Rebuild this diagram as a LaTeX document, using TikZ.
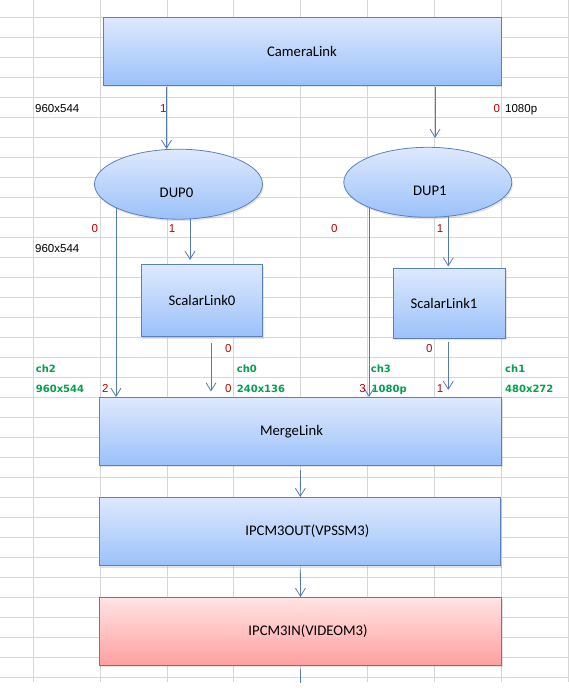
\documentclass[tikz,border=0pt]{standalone}
\usepackage{fontspec}
\setmainfont{Carlito}
\newfontfamily\cellfont{Liberation Sans}
\newfontfamily\chfont{DejaVu Sans}
\usetikzlibrary{arrows.meta,shadows,shapes.geometric,backgrounds}
\definecolor{gridc}{RGB}{214,214,214}
\definecolor{boxtop}{RGB}{222,233,253}
\definecolor{boxbot}{RGB}{155,193,250}
\definecolor{boxline}{RGB}{92,128,186}
\definecolor{redtop}{RGB}{255,228,228}
\definecolor{redbot}{RGB}{255,160,160}
\definecolor{redline}{RGB}{196,88,88}
\definecolor{arrc}{RGB}{84,122,180}
\definecolor{numc}{RGB}{192,0,0}
\definecolor{chc}{RGB}{0,160,80}

\begin{document}
\begin{tikzpicture}[x=1pt,y=-1pt,
  boxfont/.style={font=\fontsize{14.7}{16}\selectfont},
  link/.style={rectangle,draw=boxline,line width=0.8pt,top color=boxtop,bottom color=boxbot,
    inner sep=0pt,boxfont,drop shadow={shadow xshift=1pt,shadow yshift=-2pt,opacity=.22}},
  redlink/.style={link,draw=redline,top color=redtop,bottom color=redbot},
  dup/.style={link,ellipse,minimum width=168pt,minimum height=70pt},
  flow/.style={draw=arrc,line width=0.8pt,-{Straight Barb[length=8pt,width=10pt]}},
  cell/.style={font=\cellfont\fontsize{11.5}{13}\selectfont,inner sep=0pt},
  num/.style={cell,text=numc,anchor=base},
  ch/.style={font=\chfont\bfseries\fontsize{10}{12}\selectfont,text=chc,inner sep=0pt,anchor=base west}]
\useasboundingbox (0,0) rectangle (569,691);

% links
\node[link,minimum width=398pt,minimum height=68pt] (cam) at (302,51) {CameraLink};
\node[dup,label={[boxfont,xshift=-2pt,yshift=-9pt]center:DUP0}] (dup0) at (178.5,184.2) {};
\node[dup,label={[boxfont,xshift=2pt,yshift=-9pt]center:DUP1}] (dup1) at (427.8,182.3) {};
\node[link,minimum width=121.4pt,minimum height=72.4pt] (sc0) at (202,300.5) {ScalarLink0};
\node[link,minimum width=112.4pt,minimum height=70pt,
  label={[boxfont,xshift=-5.5pt]center:ScalarLink1}] (sc1) at (449.5,303.3) {};
\node[link,minimum width=402.4pt,minimum height=67.7pt,
  label={[boxfont,xshift=-9pt]center:MergeLink}] (mrg) at (300.5,431.2) {};
\node[link,minimum width=401pt,minimum height=68.4pt,
  label={[boxfont,xshift=7pt]center:IPCM3OUT(VPSSM3)}] (out) at (300.3,531.5) {};
\node[redlink,minimum width=402.4pt,minimum height=68pt,
  label={[boxfont,xshift=7.5pt]center:IPCM3IN(VIDEOM3)}] (in) at (300.5,631.3) {};

% cell texts
\node[cell,anchor=base west] (res0) at (35,112.7) {960x544};
\node[cell,anchor=base west] (res1) at (505,112.7) {1080p};
\node[cell,anchor=base west] (res2) at (35,252.7) {960x544};
\node[num] (c1) at (163.3,112.7) {1};
\node[num] (c0) at (496.7,112.7) {0};
\node[num] (d00) at (94.7,232.7) {0};
\node[num] (d01) at (172,232.7) {1};
\node[num] (d10) at (334.3,232.7) {0};
\node[num] (d11) at (440,232.7) {1};
\node[num] (s00) at (228.3,352.7) {0};
\node[num] (s10) at (429.3,352.7) {0};
\node[num] (m2) at (105.3,392.7) {2};
\node[num] (m0) at (228.3,392.7) {0};
\node[num] (m3) at (362.5,392.7) {3};
\node[num] (m1) at (440,392.7) {1};
\node[ch] (ch2) at (35.7,372.7) {ch2};
\node[ch] (ch2r) at (35.7,392.7) {960x544};
\node[ch] (ch0) at (236.7,372.7) {ch0};
\node[ch] (ch0r) at (236.7,392.7) {240x136};
\node[ch] (ch3) at (370.7,372.7) {ch3};
\node[ch] (ch3r) at (371.5,392.7) {1080p};
\node[ch] (ch1) at (505,372.7) {ch1};
\node[ch] (ch1r) at (505,392.7) {480x272};

% ports
\coordinate (xa) at (166.5,0); \coordinate (xb) at (435,0);
\coordinate (xc) at (116,0);   \coordinate (xd) at (190,0);
\coordinate (xe) at (211,0);   \coordinate (xf) at (369,0);
\coordinate (xg) at (448.3,0); \coordinate (tail) at (300.5,683);

\begin{pgfonlayer}{background}
\foreach \x in {33.1,100,166.9,233.8,300.7,367.6,434.5,501.4,568.3}
  \draw[gridc,line width=0.8pt] (\x,0) -- (\x,682);
\foreach \y in {17.3,37.3,...,678}
  \draw[gridc,line width=0.8pt] (0,\y) -- (569,\y);
\draw[flow,shorten <=2pt] (cam.south -| xa) -- (dup0.north -| xa);
\draw[flow,shorten <=2pt,shorten >=9pt] (cam.south -| xb) -- (dup1.north -| xb);
\draw[flow] (dup0.center -| xc) -- (mrg.north -| xc);
\draw[flow,shorten >=4pt] (dup0.center -| xd) -- (sc0.north -| xd);
\draw[flow,shorten <=6pt,shorten >=5.5pt] (sc0.south -| xe) -- (mrg.north -| xe);
\draw[flow] (dup1.center -| xf) -- (mrg.north -| xf);
\draw[flow,shorten >=1.5pt] (dup1.center -| xg) -- (sc1.north -| xg);
\draw[flow,shorten <=3.5pt,shorten >=7pt] (sc1.south -| xg) -- (mrg.north -| xg);
\draw[flow,shorten <=5pt] (mrg.south) -- (out.north);
\draw[flow,shorten <=3.5pt] (out.south) -- (in.north);
\draw[draw=arrc,line width=0.8pt,shorten <=3pt] (in.south) -- (tail);
\end{pgfonlayer}
\end{tikzpicture}
\end{document}
